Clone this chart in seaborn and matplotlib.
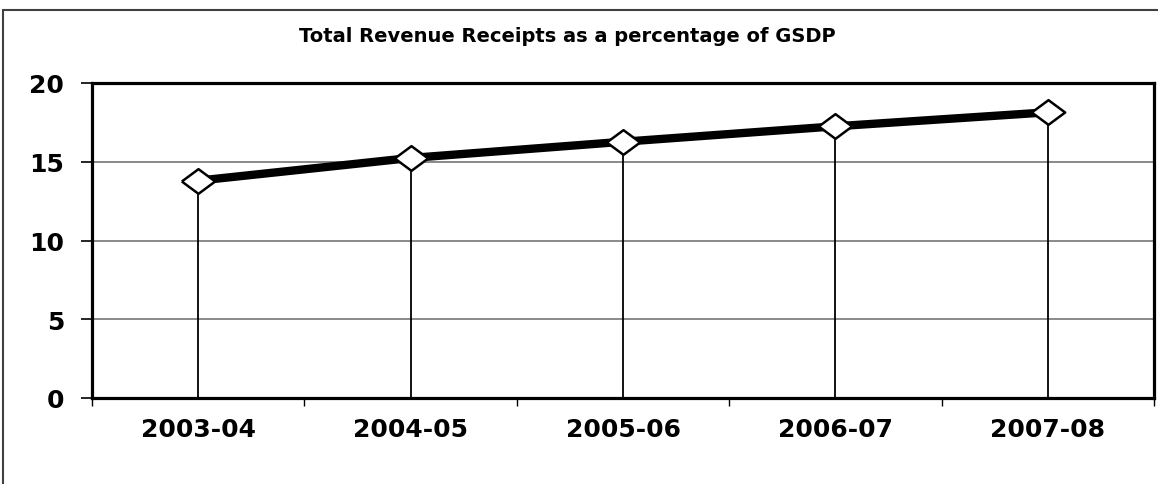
import pandas as pd
import numpy as np
import matplotlib.pyplot as plt
import seaborn as sns
from matplotlib.patches import Rectangle
from matplotlib.ticker import FixedLocator

years = ["2003-04", "2004-05", "2005-06", "2006-07", "2007-08"]
receipts_pct = [13.8, 15.24, 16.27, 17.25, 18.14]
y_ticks = [0, 5, 10, 15, 20]
title = "Total Revenue Receipts as a percentage of GSDP"

df = pd.DataFrame({"year": years, "pct": receipts_pct})

sns.set_style("white")
plt.rcParams["font.family"] = ["DejaVu Sans"]

fig = plt.figure(figsize=(11.58, 4.85), dpi=100)
ax = fig.add_axes([92 / 1158, 86 / 485, 1062 / 1158, 315 / 485])

# squashed diamond marker like the original
diamond = [(-1.35, 0), (0, 1), (1.35, 0), (0, -1), (-1.35, 0)]

pos = np.arange(len(years))
ax.vlines(pos, 0, df["pct"], color="black", linewidth=1.3, zorder=2)

sns.lineplot(
    data=df,
    x="year",
    y="pct",
    ax=ax,
    color="black",
    linewidth=6,
    marker=diamond,
    markersize=24,
    markerfacecolor="white",
    markeredgecolor="black",
    markeredgewidth=1.8,
    zorder=3
)

ax.set_xlim(-0.5, len(years) - 0.5)
ax.set_ylim(0, 20)
ax.set_yticks(y_ticks)
ax.set_yticklabels([str(t) for t in y_ticks], fontsize=18, fontweight="bold")
ax.set_xticks(pos)
ax.set_xticklabels(years, fontsize=18, fontweight="bold")
ax.xaxis.set_minor_locator(FixedLocator(np.arange(-0.5, len(years), 1.0)))
ax.tick_params(axis="x", which="major", bottom=True, length=0, pad=14)
ax.tick_params(axis="x", which="minor", bottom=True, length=6, width=1,
               direction="out", color="black")
ax.tick_params(axis="y", which="major", left=True, length=8, width=1.2,
               direction="out", color="black", pad=12)
ax.tick_params(axis="both", colors="black")

ax.grid(axis="y", color="#808080", linewidth=1.3)
ax.grid(axis="x", visible=False)
ax.set_axisbelow(True)
for s in ax.spines.values():
    s.set_color("black")
    s.set_linewidth(2.3)

ax.set_xlabel("")
ax.set_ylabel("")

fig.text(567 / 1158, 1 - 36 / 485, title, ha="center", va="center",
         fontsize=14, fontweight="bold", color="black")

# outer chart border
fig.patches.append(Rectangle((3 / 1158, -0.1), 1.2, 1 - 11 / 485 + 0.1,
                             transform=fig.transFigure, fill=False,
                             edgecolor="#404040", linewidth=1.5))

fig.savefig("out.png", dpi=100)
